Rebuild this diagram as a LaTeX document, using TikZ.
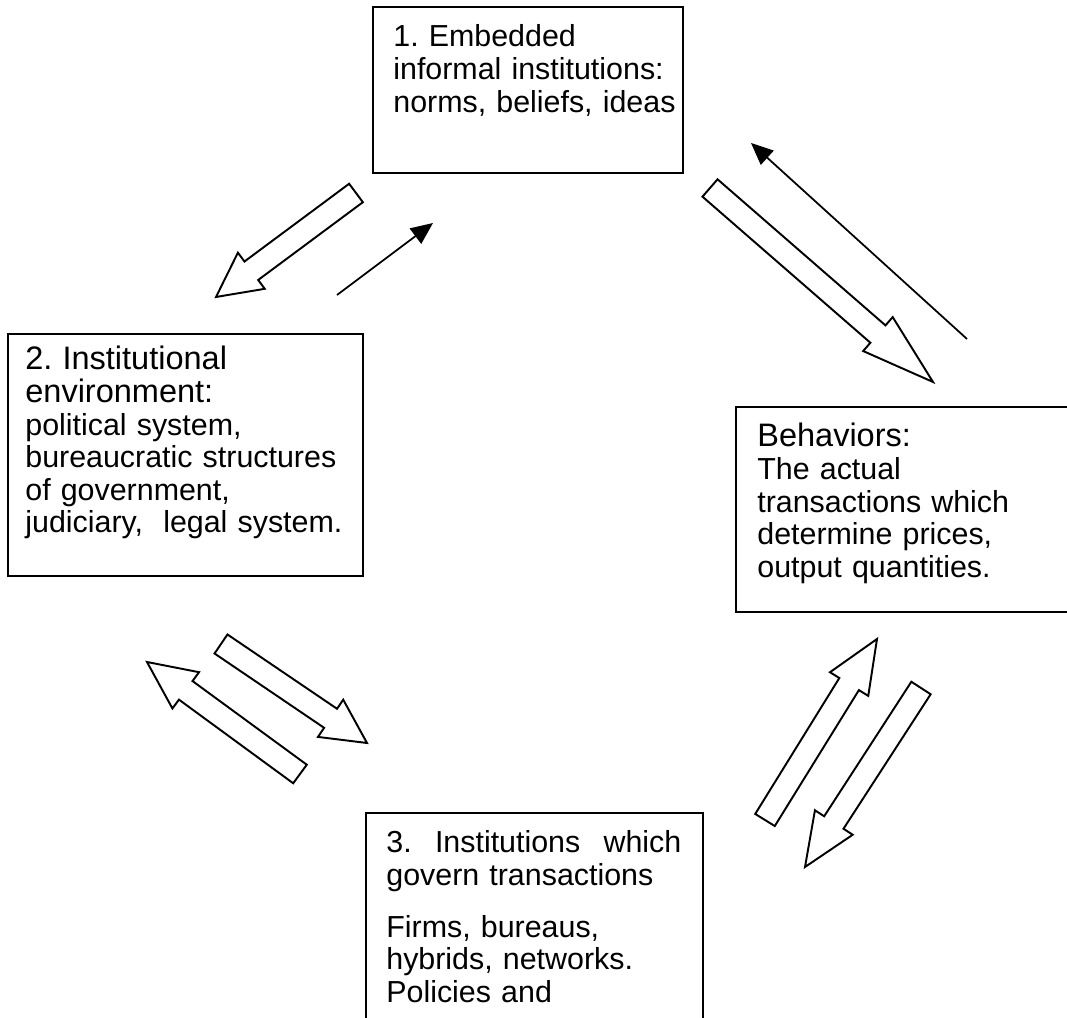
\documentclass[tikz,border=0pt]{standalone}
\usepackage{fontspec}
\setmainfont{Liberation Sans}
\usetikzlibrary{calc,arrows.meta}
\frenchspacing

\newcommand{\hdr}{\fontsize{18.5}{18.5}\selectfont}
\newcommand{\hollowarrow}[3]{%
	\coordinate (hb) at ($(#2)!#3!(#1)$);
	\draw[hollow] ($(#1)!0.23cm!90:(#2)$) -- ($(hb)!0.23cm!-90:(#1)$) -- ($(hb)!0.45cm!-90:(#1)$) -- (#2)
		-- ($(hb)!0.45cm!90:(#1)$) -- ($(hb)!0.23cm!90:(#1)$) -- ($(#1)!0.23cm!-90:(#2)$) -- cycle;
}

\begin{document}
\begin{tikzpicture}[
		box/.style={line width=1.1pt},
		txt/.style={anchor=base west, inner sep=0pt, align=left, font=\fontsize{17.3}{18.5}\selectfont},
		hollow/.style={line width=1.1pt, line join=miter},
		pointer/.style={line width=1pt, -{Triangle[length=0.44cm,width=0.38cm]}}
	]
				  \useasboundingbox (0,0) rectangle (21.34,20.36);
				  \fill[white] (0,0) rectangle (21.34,20.36);
				  \clip (0,0) rectangle (21.34,20.36);

				  \coordinate (E) at (7.46,20.22);
				  \coordinate (E') at (13.66,16.90);
				  \coordinate (I) at (0.16,13.68);
				  \coordinate (I') at (7.26,8.84);
				  \coordinate (B) at (14.72,12.22);
				  \coordinate (B') at (21.80,8.12);
				  \coordinate (G) at (7.32,4.10);
				  \coordinate (G') at (14.06,-0.60);
				  \draw[box] (E) rectangle (E');
				  \draw[box] (I) rectangle (I');
				  \draw[box] (B) rectangle (B');
				  \draw[box] (G) rectangle (G');

				  \node[txt, text width=6.2cm] (embedded) at (7.86,19.42) {1. Embedded\\ informal institutions:\\ norms, beliefs, ideas};
				  \node[txt, text width=6.7cm] (environment) at (0.50,12.96) {{\hdr 2. Institutional}\\ {\hdr environment:}\\ political system,\\ bureaucratic structures\\ of government,\\ judiciary,~ legal system.};
				  \node[txt, text width=6.2cm] (behaviors) at (15.14,11.42) {{\hdr Behaviors:}\\ The actual\\ transactions which\\ determine prices,\\ output quantities.};
				  \node[txt, text width=5.9cm] (governance) at (7.72,3.30) {\makebox[\linewidth]{3.\hfill Institutions\hfill which}\\ govern transactions\par\vspace{0.38cm}
					Firms, bureaus,\\ hybrids, networks.\\ Policies and};

				  \coordinate (P1) at (7.12,16.50);
				  \coordinate (P1') at (4.32,14.42);
				  \coordinate (Q1) at (6.74,14.46);
				  \coordinate (Q1') at (8.66,15.90);
				  \coordinate (P2) at (14.20,16.60);
				  \coordinate (P2') at (18.66,12.72);
				  \coordinate (Q2) at (19.34,13.58);
				  \coordinate (Q2') at (15.02,17.50);
				  \coordinate (P3) at (6.00,4.88);
				  \coordinate (P3') at (2.94,7.12);
				  \coordinate (P4) at (4.42,7.48);
				  \coordinate (P4') at (7.34,5.50);
				  \coordinate (P5) at (15.30,3.96);
				  \coordinate (P5') at (17.54,7.58);
				  \coordinate (P6) at (18.42,6.60);
				  \coordinate (P6') at (16.10,3.02);

				  \hollowarrow{P1}{P1'}{0.88cm}
				  \draw[pointer] (Q1) -- (Q1');
				  \hollowarrow{P2}{P2'}{1.46cm}
				  \draw[pointer] (Q2) -- (Q2');
				  \hollowarrow{P3}{P3'}{0.96cm}
				  \hollowarrow{P4}{P4'}{0.88cm}
				  \hollowarrow{P5}{P5'}{1.06cm}
				  \hollowarrow{P6}{P6'}{1.06cm}
\end{tikzpicture}
\end{document}
